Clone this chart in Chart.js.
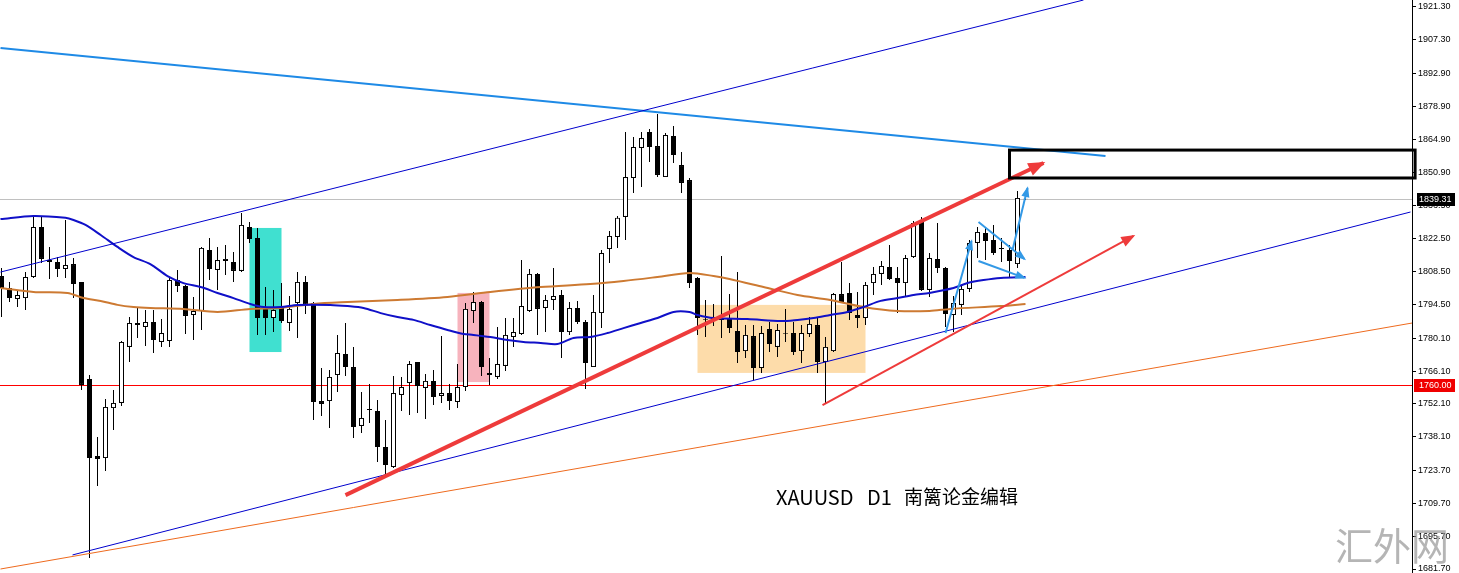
<!DOCTYPE html>
<html>
<head>
<meta charset="utf-8">
<script src="https://cdn.jsdelivr.net/npm/chart.js@4.4.1/dist/chart.umd.min.js"></script>
<style>
  html, body { margin: 0; padding: 0; background: #fff; }
  #wrap { width: 1459px; height: 573px; position: relative; }
</style>
</head>
<body>
<div id="wrap"><canvas id="grafica"></canvas></div>
<script>
// XAUUSD D1 candles
const opens = [1806.6,1801.5,1796.8,1797.2,1806.2,1827.5,1813.4,1812.6,1809.6,1811.7,
  1804.1,1762.7,1729.9,1729.0,1750.3,1752.5,1776.4,1786.6,1784.9,1787.0,
  1778.5,1778.9,1804.9,1802.4,1790.0,1791.7,1817.7,1809.2,1813.0,1812.6,
  1808.8,1827.5,1822.8,1793.0,1788.7,1793.4,1786.6,1795.1,1804.1,1795.1,
  1753.3,1753.3,1764.4,1773.4,1767.8,1742.7,1749.9,1749.1,1733.7,1725.2,
  1755.9,1761.0,1770.0,1758.9,1761.9,1755.5,1756.7,1752.9,1759.3,1791.7,
  1795.5,1765.3,1763.6,1768.3,1780.6,1781.9,1791.7,1807.5,1793.0,1796.4,
  1798.5,1782.7,1793.0,1787.0,1767.8,1790.8,1818.1,1823.2,1831.8,1848.4,
  1861.2,1868.0,1862.0,1848.8,1866.3,1853.9,1847.5,1805.8,1788.3,1788.7,
  1788.3,1788.7,1783.2,1774.6,1781.0,1767.4,1784.0,1776.4,1782.3,1782.3,
  1774.6,1781.9,1785.7,1770.0,1774.6,1798.9,1799.4,1790.0,1788.7,1803.6,
  1807.5,1810.5,1805.8,1803.6,1814.7,1830.5,1800.7,1813.9,1810.0,1790.0,
  1794.3,1801.1,1820.7,1825.0,1822.0,1818.6,1817.7,1811.7,1839.6];
const highs = [1810.0,1804.1,1800.7,1808.3,1831.8,1831.8,1819.0,1814.7,1830.5,1814.3,
  1804.1,1764.4,1738.0,1754.2,1758.0,1778.9,1789.1,1793.0,1792.1,1792.1,
  1788.3,1806.2,1809.2,1802.8,1797.7,1819.0,1822.8,1819.0,1819.8,1816.9,
  1833.5,1829.6,1827.1,1801.9,1800.7,1803.6,1798.1,1808.3,1806.6,1795.5,
  1767.4,1766.5,1781.5,1786.6,1776.4,1757.2,1760.6,1753.8,1745.2,1764.0,
  1763.6,1770.4,1770.0,1764.8,1766.5,1781.0,1760.6,1769.1,1795.1,1799.8,
  1796.0,1771.7,1784.9,1788.7,1788.7,1813.4,1809.6,1807.9,1798.5,1810.0,
  1800.7,1795.5,1796.0,1787.9,1798.5,1817.7,1825.8,1832.2,1868.0,1865.9,
  1868.0,1869.3,1875.7,1867.6,1870.6,1859.5,1848.4,1806.2,1796.4,1794.7,
  1815.1,1798.9,1808.3,1785.7,1785.7,1785.3,1787.0,1786.2,1792.6,1787.0,
  1785.7,1789.1,1789.1,1780.6,1799.4,1812.6,1803.6,1799.8,1804.1,1810.5,
  1813.0,1819.8,1810.5,1815.6,1830.1,1831.8,1816.4,1829.2,1810.5,1798.1,
  1802.4,1822.0,1827.5,1827.5,1828.4,1822.8,1819.8,1842.9,1840.0];
const lows = [1789.1,1795.5,1793.4,1792.1,1805.8,1812.2,1805.3,1806.2,1805.8,1797.2,
  1758.0,1686.4,1717.1,1723.5,1741.0,1751.2,1770.0,1780.2,1776.8,1773.8,
  1776.4,1776.4,1799.8,1781.9,1779.3,1783.6,1804.9,1800.7,1807.0,1804.1,
  1808.3,1820.7,1781.5,1781.5,1782.7,1786.6,1783.2,1780.2,1790.4,1745.2,
  1746.9,1741.8,1757.2,1764.0,1737.6,1739.7,1744.0,1727.3,1721.8,1724.8,
  1749.1,1747.4,1748.2,1745.7,1751.6,1752.5,1749.5,1750.3,1757.6,1786.6,
  1764.0,1760.2,1762.7,1766.1,1776.4,1781.5,1791.3,1781.5,1782.7,1792.1,
  1771.7,1781.5,1786.2,1758.4,1767.8,1784.4,1812.2,1818.6,1822.0,1842.0,
  1844.6,1855.2,1848.8,1848.8,1854.8,1842.0,1801.5,1781.5,1780.6,1785.3,
  1780.2,1782.3,1769.5,1771.7,1762.3,1765.3,1774.2,1772.1,1778.5,1772.9,
  1769.5,1780.6,1765.3,1752.5,1774.2,1795.1,1787.9,1784.4,1785.7,1798.5,
  1802.8,1804.9,1790.8,1798.1,1814.3,1800.2,1797.7,1807.9,1784.9,1782.7,
  1790.0,1799.8,1814.3,1813.4,1815.6,1812.6,1805.8,1810.0,1839.0];
const closes = [1801.5,1797.2,1798.5,1806.2,1827.5,1813.9,1812.6,1809.6,1811.3,1803.2,
  1760.2,1729.0,1728.6,1750.8,1752.5,1778.5,1786.6,1785.7,1787.0,1779.3,
  1782.3,1804.9,1802.4,1789.6,1791.7,1818.6,1809.6,1813.4,1813.9,1808.8,
  1828.4,1822.4,1788.7,1788.7,1792.1,1787.4,1792.6,1804.1,1794.3,1752.9,
  1752.0,1763.6,1773.8,1767.8,1742.2,1746.1,1749.5,1733.7,1726.0,1756.7,
  1759.3,1769.1,1759.7,1761.9,1755.0,1756.7,1753.3,1759.3,1792.6,1795.5,
  1767.8,1764.4,1769.1,1781.5,1782.7,1793.8,1807.5,1792.6,1796.4,1798.1,
  1782.7,1793.0,1787.0,1769.5,1791.3,1816.4,1823.7,1831.4,1848.8,1861.6,
  1865.4,1861.6,1849.7,1866.7,1858.2,1846.3,1803.6,1788.7,1788.0,1788.3,
  1787.9,1784.4,1774.2,1781.5,1767.4,1782.3,1777.6,1783.6,1782.0,1774.2,
  1782.3,1786.2,1770.0,1776.4,1798.9,1795.5,1790.8,1788.7,1802.8,1807.5,
  1810.9,1805.3,1803.6,1814.3,1829.2,1800.7,1814.3,1810.0,1790.4,1795.1,
  1801.1,1820.7,1825.4,1821.5,1816.4,1818.1,1813.0,1839.9,1839.31];

// price scale labels on the right
const tickLabels = [1921.30,1907.30,1892.90,1878.90,1864.90,1850.90,1836.50,1822.50,1808.50,
  1794.50,1780.10,1766.10,1752.10,1738.10,1723.70,1709.70,1695.70,1681.70];

const currentPrice = 1839.31;
const levelPrice = 1760.00;

// moving averages, sampled along the candles (x = candle index)
const blueMaX = [-0.125,4,8,9,10.5,12.4,14.5,16.5,18.6,20.75,22.75,24.9,27,29,31.1,32.75,34.9,37,41.1,43.25,
  45.25,47.4,49.5,51.5,53.6,55.75,57.75,59,61.1,63.25,65.25,67.4,69.5,71.5,73.6,75.75,77.75,79.9,82,84,
  86,87,89,93.25,97.4,99.5,101.5,103.6,105.75,107.75,109.9,112,114,116,119,120.75,122.75,124.9,128];
const blueMa = [1830.9,1832.2,1831.4,1830.5,1828.4,1824.1,1819.0,1814.7,1811.7,1806.6,1803.6,1801.9,1799.4,1797.2,1794.7,1793.4,1793.4,1794.3,1794.3,1793.8,
  1793.0,1790.8,1789.1,1787.9,1785.7,1783.6,1781.9,1781.5,1780.6,1779.3,1778.5,1778.1,1777.6,1780.2,1780.6,1782.3,1784.4,1786.6,1788.7,1791.3,
  1791.3,1790.0,1788.7,1788.3,1787.4,1787.9,1788.7,1790.0,1791.3,1793.4,1796.0,1797.2,1798.5,1799.4,1801.5,1803.6,1804.9,1805.8,1806.2];
const brownMaX = [-0.125,4,8.25,10.25,12.4,14.5,16.5,18.6,22.75,27,31.1,34.9,39,43.25,49.5,55.75,61.1,67.4,73.6,77.75,
  82,86,89,91,95.25,99.5,103.6,107.75,112,116,118.6,124.9,128];
const brownMa = [1801.5,1799.8,1799.4,1797.2,1796.0,1794.3,1793.4,1793.0,1792.6,1791.3,1792.6,1793.0,1794.7,1795.5,1796.4,1797.7,1799.8,1801.9,1803.2,1804.5,
  1806.2,1807.9,1806.6,1805.3,1801.9,1798.5,1796.4,1793.4,1791.7,1791.7,1792.6,1793.8,1794.7];

// drawn objects: [index, price] end points
const upperChannel = [[-0.125, 1808.3], [135.25, 1924.28]];
const lowerChannel = [[8.875, 1687.7], [176.125, 1833.9]];
const orangeTrend = [[-0.125, 1681.7], [176.375, 1786.6]];
const blueResist = [[-0.125, 1903.8], [138, 1857.8]];
const redArrowBig = [[43, 1713.2], [130.25, 1854.8]];
const redArrowSmall = [[102.625, 1751.6], [141.5, 1823.7]];
const blueArrowUp = [[118, 1782.3], [121.25, 1821.5]];
const blueArrowTop = [[122.125, 1829.6], [127.875, 1813.9]];
const blueArrowLow = [[122.125, 1813.0], [127.875, 1805.8]];
const blueArrowLast = [[126.375, 1817.7], [128.25, 1844.1]];

// zones: [fromIndex, toIndex, topPrice, bottomPrice]
const cyanZone = [31, 35, 1827.1, 1774.2];
const pinkZone = [57, 61, 1799.4, 1761.4];
const sandZone = [87, 108, 1794.3, 1765.3];
const targetBox = [126, 176.7, 1860.3, 1848.4];

const idx = opens.map((_, i) => i);
const pts = arr => arr.map(p => ({ x: p[0], y: p[1] }));

function segment(points, color, width, arrowSize) {
  return {
    type: 'line', data: pts(points), borderColor: color, borderWidth: width,
    pointRadius: 0, tension: 0, order: 0, arrowSize: arrowSize || 0
  };
}

const zonesPlugin = {
  id: 'zones',
  beforeDatasetsDraw(chart) {
    const { ctx, chartArea, scales: { x, y } } = chart;
    const fillZone = (z, color) => {
      const x0 = x.getPixelForValue(z[0]), x1 = x.getPixelForValue(z[1]);
      const y0 = y.getPixelForValue(z[2]), y1 = y.getPixelForValue(z[3]);
      ctx.fillStyle = color;
      ctx.fillRect(x0, y0, x1 - x0, y1 - y0);
    };
    ctx.save();
    fillZone(cyanZone, '#40e0d0');
    fillZone(pinkZone, '#f7b3bd');
    fillZone(sandZone, '#fddcaa');
    // grey bid line and red level
    ctx.lineWidth = 1;
    const yb = Math.round(y.getPixelForValue(currentPrice)) + 0.5;
    ctx.strokeStyle = '#c0c0c0';
    ctx.beginPath(); ctx.moveTo(chartArea.left, yb); ctx.lineTo(chartArea.right, yb); ctx.stroke();
    const yl = Math.round(y.getPixelForValue(levelPrice)) + 0.5;
    ctx.strokeStyle = '#ff0000';
    ctx.beginPath(); ctx.moveTo(chartArea.left, yl); ctx.lineTo(chartArea.right, yl); ctx.stroke();
    ctx.restore();
  }
};

const arrowPlugin = {
  id: 'arrows',
  afterDatasetsDraw(chart) {
    const ctx = chart.ctx;
    chart.data.datasets.forEach((ds, i) => {
      if (!ds.arrowSize) return;
      const els = chart.getDatasetMeta(i).data;
      const a = els[els.length - 2], b = els[els.length - 1];
      const ang = Math.atan2(b.y - a.y, b.x - a.x);
      const s = ds.arrowSize, w = s * 0.45;
      const bx = b.x - s * Math.cos(ang), by = b.y - s * Math.sin(ang);
      ctx.save();
      ctx.fillStyle = ds.borderColor;
      ctx.beginPath();
      ctx.moveTo(b.x + 2 * Math.cos(ang), b.y + 2 * Math.sin(ang));
      ctx.lineTo(bx + w * Math.sin(ang), by - w * Math.cos(ang));
      ctx.lineTo(bx - w * Math.sin(ang), by + w * Math.cos(ang));
      ctx.closePath();
      ctx.fill();
      ctx.restore();
    });
  }
};

const labelsPlugin = {
  id: 'labels',
  afterDraw(chart) {
    const { ctx, chartArea, scales: { x, y } } = chart;
    ctx.save();
    // target box
    const bx0 = x.getPixelForValue(targetBox[0]), bx1 = x.getPixelForValue(targetBox[1]);
    const by0 = y.getPixelForValue(targetBox[2]), by1 = y.getPixelForValue(targetBox[3]);
    ctx.strokeStyle = '#000'; ctx.lineWidth = 3;
    ctx.strokeRect(bx0, by0, bx1 - bx0, by1 - by0);

    // price tags on the scale
    ctx.font = '9px "Liberation Sans"';
    ctx.textBaseline = 'middle';
    const tag = (price, bg, text, left) => {
      const yy = Math.round(y.getPixelForValue(price));
      ctx.fillStyle = bg;
      ctx.fillRect(left, yy - 6, 1455 - left, 13);
      ctx.fillStyle = '#fff';
      ctx.fillText(text, chartArea.right + 7, yy + 1);
    };
    tag(currentPrice, '#000', currentPrice.toFixed(2), chartArea.right + 5);
    tag(levelPrice, '#f00000', levelPrice.toFixed(2), chartArea.right + 2);

    // caption
    ctx.fillStyle = '#000';
    ctx.textBaseline = 'middle';
    const cx = x.getPixelForValue(96.8), cy = y.getPixelForValue(1712.4);
    ctx.font = '20px "Noto Sans CJK SC"';
    ctx.fillText('XAUUSD', cx, cy);
    ctx.fillText('D1', cx + 91, cy);
    ctx.font = '19px "Noto Sans CJK SC"';
    ctx.fillText('南篱论金编辑', cx + 128, cy);

    // watermark
    ctx.fillStyle = 'rgba(150,150,150,0.7)';
    ctx.font = '38px "Noto Sans CJK SC"';
    ctx.fillText('汇外网', 1335, 546);
    ctx.restore();
  }
};

const ctx = document.getElementById('grafica');

new Chart(ctx, {
  type: 'bar',
  data: {
    datasets: [
      segment(redArrowBig, '#ee3b3b', 4, 15),
      segment(redArrowSmall, '#ee3b3b', 2, 12),
      segment(blueArrowUp, '#3399e6', 2, 9),
      segment(blueArrowTop, '#3399e6', 2, 9),
      segment(blueArrowLow, '#3399e6', 2, 9),
      segment(blueArrowLast, '#3399e6', 2, 9),
      segment(upperChannel, '#0000cd', 1),
      segment(lowerChannel, '#0000cd', 1),
      segment(orangeTrend, '#ee6a1e', 1),
      segment(blueResist, '#1e8ae6', 2),
      {
        type: 'line', data: blueMaX.map((v, i) => ({ x: v, y: blueMa[i] })),
        borderColor: '#1010c8', borderWidth: 2, pointRadius: 0, tension: 0.3, order: 1
      },
      {
        type: 'line', data: brownMaX.map((v, i) => ({ x: v, y: brownMa[i] })),
        borderColor: '#cd7a32', borderWidth: 2, pointRadius: 0, tension: 0.3, order: 2
      },
      {
        label: 'body',
        data: idx.map(i => ({ x: i, y: [opens[i], closes[i]] })),
        backgroundColor: idx.map(i => closes[i] >= opens[i] ? '#ffffff' : '#000000'),
        borderColor: '#000',
        borderWidth: 1,
        borderSkipped: false,
        barThickness: 5,
        grouped: false,
        inflateAmount: 0,
        order: 5
      },
      {
        label: 'wick',
        data: idx.map(i => ({ x: i, y: [lows[i], highs[i]] })),
        backgroundColor: '#000',
        borderWidth: 0,
        barThickness: 1,
        grouped: false,
        inflateAmount: 0,
        order: 6
      }
    ]
  },
  options: {
    responsive: true,
    maintainAspectRatio: false,
    animation: false,
    devicePixelRatio: 1,
    events: [],
    layout: { padding: 0 },
    plugins: { legend: { display: false }, tooltip: { enabled: false } },
    scales: {
      x: {
        type: 'linear',
        min: -0.1875,
        max: 176.3125,
        offset: false,
        display: false
      },
      y: {
        position: 'right',
        min: 1680.0,
        max: 1924.28,
        beginAtZero: false,
        afterBuildTicks: s => { s.ticks = tickLabels.map(v => ({ value: v })); },
        afterFit: s => { s.width = 47; s.paddingTop = 0; s.paddingBottom = 0; },
        ticks: {
          autoSkip: false,
          padding: 2,
          color: '#000',
          font: { family: 'Liberation Sans', size: 9 },
          callback: v => Number(v).toFixed(2)
        },
        grid: { drawOnChartArea: false, tickLength: 4, color: '#000' },
        border: { display: true, color: '#000', width: 1 }
      }
    }
  },
  plugins: [zonesPlugin, arrowPlugin, labelsPlugin]
});
</script>
</body>
</html>
